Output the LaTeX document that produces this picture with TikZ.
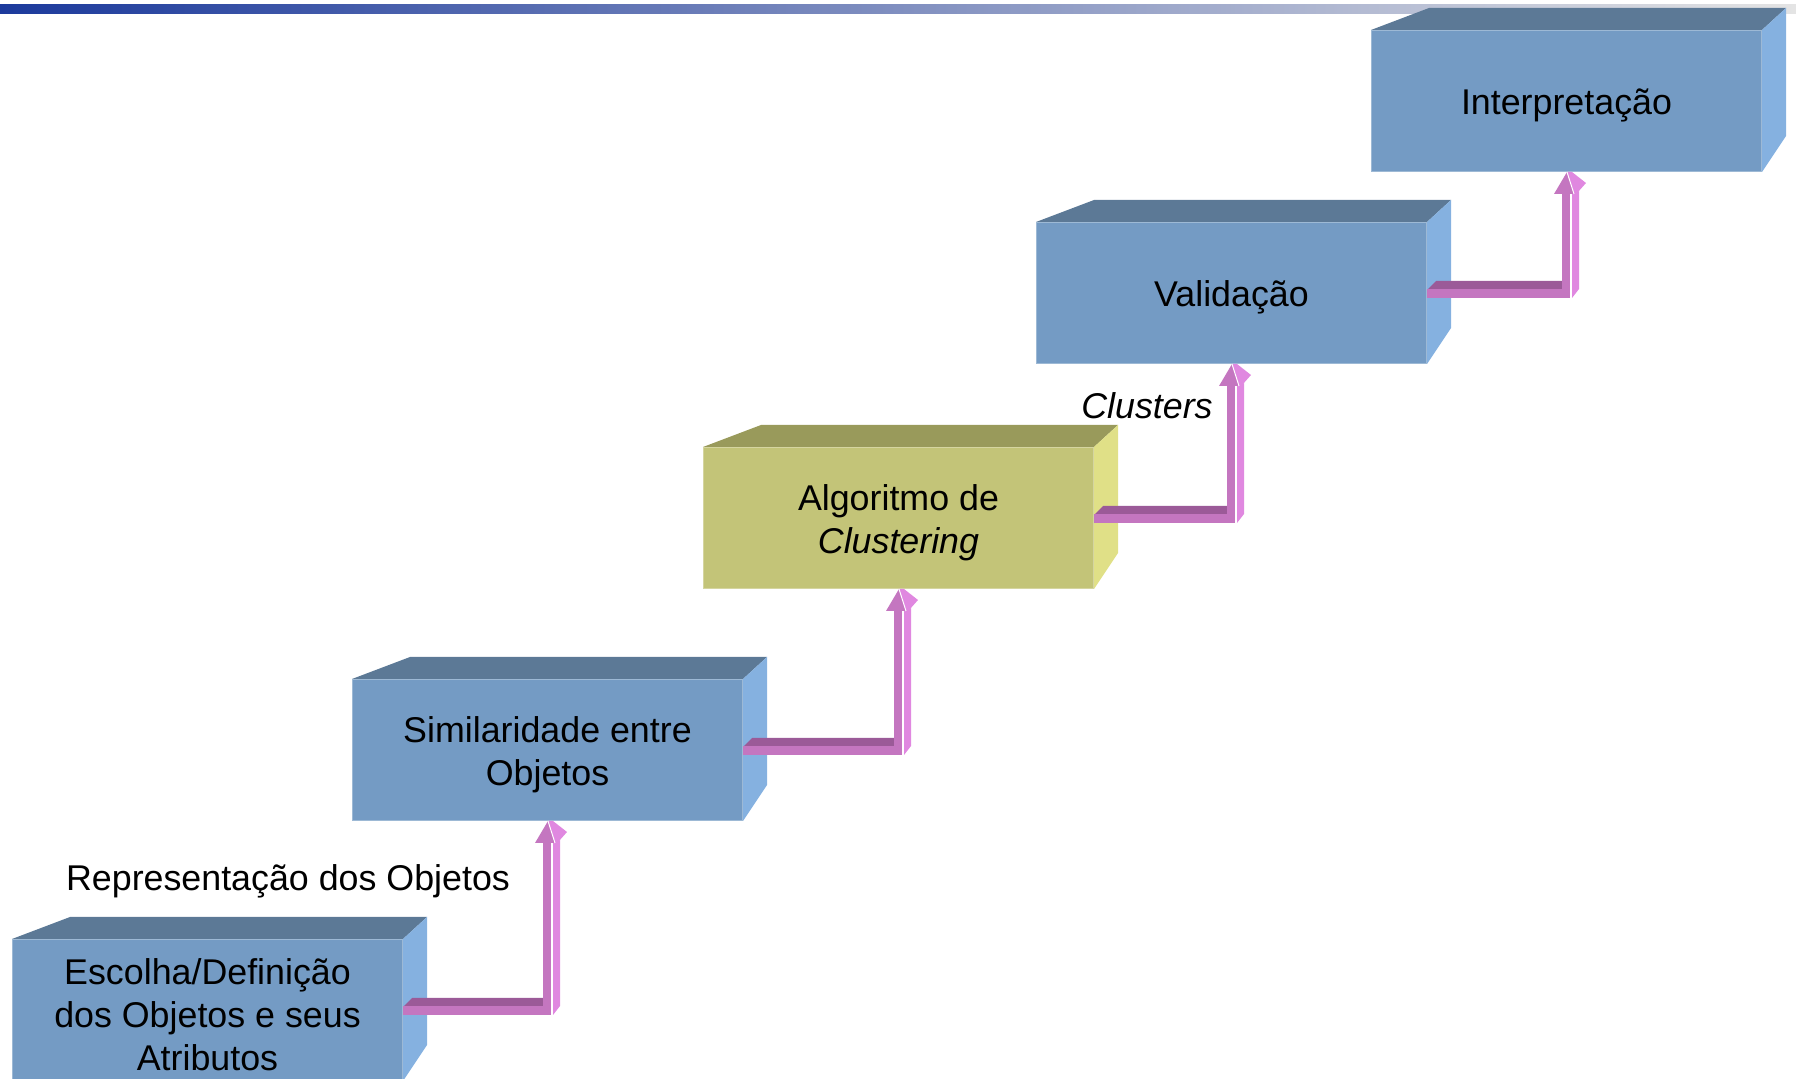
\documentclass[tikz,border=0pt]{standalone}
\usepackage{fontspec}
\setmainfont{Liberation Sans}
\usetikzlibrary{calc}

\definecolor{boxfront}{RGB}{116,155,196}
\definecolor{boxtop}{RGB}{92,121,150}
\definecolor{boxside}{RGB}{133,177,224}
\definecolor{algfront}{RGB}{195,196,120}
\definecolor{algtop}{RGB}{153,154,91}
\definecolor{algside}{RGB}{224,224,135}
\definecolor{arrtop}{RGB}{155,90,152}
\definecolor{arrfront}{RGB}{196,118,192}
\definecolor{arrside}{RGB}{224,136,224}
\definecolor{barleft}{RGB}{28,58,156}
\definecolor{barright}{RGB}{228,228,228}

\newcommand\stagefont{\fontsize{17.9pt}{21.5pt}\selectfont}

% A stage drawn as a block: front face (the named node), top face, side face and its caption
\newcommand\stagecube[7]{%
  \node[cubefront, fill=#4, anchor=north west] (#1) at (#2,#3) {};
  \fill[#5] (#1.north west) -- ++(58,-22) -- ($(#1.north east)+(24,-22)$) -- (#1.north east) -- cycle;
  \fill[#6] (#1.north east) -- ++(24,-22) -- ($(#1.south east)+(24,-36)$) -- (#1.south east) -- cycle;
  \node[lbl, align=center] (#1text) at ($(#1.center)+(0,4.5)$) {#7};
}

% A solid elbow arrow from the side of one stage up to the bottom of the next
\newcommand\stairarrow[3]{%
  \coordinate (h#3) at ($(#1.north east)+(0,59)$);
  \coordinate (v#3) at ($(#2.south west)+(191,0)$);
  \coordinate (c#3) at (h#3 -| v#3);
  \fill[arrtop] ($(h#3)+(1,8)$) -- ($(h#3)+(9,0)$) -- (c#3) -- ($(c#3)+(0,8)$) -- cycle;
  \fill[arrfront] ($(h#3)+(0,8)$) rectangle ($(c#3)+(8,17)$);
  \fill[arrfront] ($(v#3)+(0,21)$) rectangle ($(c#3)+(8,17)$);
  \fill[arrside] ($(v#3)+(10,22)$) -- ($(v#3)+(17,19)$) -- ($(c#3)+(17,8)$) -- ($(c#3)+(10,17)$) -- cycle;
  \draw[white, line width=0.5pt] ($(v#3)+(9,22)$) -- ($(c#3)+(9,17)$);
  \fill[arrfront] ($(v#3)+(-8,22)$) -- ($(v#3)+(5,0)$) -- ($(v#3)+(12,22)$) -- cycle;
  \fill[arrside] ($(v#3)+(5,0)$) -- ($(v#3)+(10,0)$) -- ($(v#3)+(24,11)$) -- ($(v#3)+(16,20)$) -- ($(v#3)+(12,22)$) -- cycle;
  \draw[white, line width=0.5pt] ($(v#3)+(5,0)$) -- ($(v#3)+(12,22)$);
}

\tikzset{
  cubefront/.style={minimum width=195.5pt, minimum height=71pt, inner sep=0pt, outer sep=0pt,
    draw=white, draw opacity=0.3, line width=0.6pt},
  lbl/.style={font=\stagefont, inner sep=0pt}
}

\begin{document}
\begin{tikzpicture}[x=0.5pt, y=-0.5pt]
  \useasboundingbox (0,0) rectangle (1796,1079);
  \clip (0,0) rectangle (1796,1079);

  % title rule
  \shade[left color=barleft, right color=barright] (0,5) rectangle (1796,13.5);

  % stages
  \stagecube{esc}{12}{939}{boxfront}{boxtop}{boxside}{Escolha/Definição\\dos Objetos e seus\\Atributos}
  \stagecube{sim}{352}{679}{boxfront}{boxtop}{boxside}{Similaridade entre\\Objetos}
  \stagecube{alg}{703}{447}{algfront}{algtop}{algside}{Algoritmo de\\\textit{Clustering}}
  \stagecube{val}{1036}{222}{boxfront}{boxtop}{boxside}{Validação}
  \stagecube{int}{1371}{30}{boxfront}{boxtop}{boxside}{Interpretação}

  % connectors between stages
  \stairarrow{esc}{sim}{1}
  \stairarrow{sim}{alg}{2}
  \stairarrow{alg}{val}{3}
  \stairarrow{val}{int}{4}

  % labels on the connectors
  \node[lbl] (rep) at (288,881) {Representação dos Objetos};
  \node[lbl, font=\stagefont\itshape] (clu) at (1147,406) {Clusters};
\end{tikzpicture}
\end{document}
